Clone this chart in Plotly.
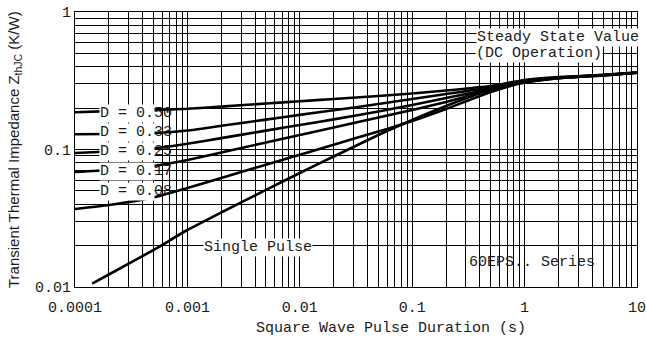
import plotly.graph_objects as go

# ---------------- data ----------------
t = [0.0001, 0.0002, 0.0005, 0.001, 0.002, 0.005, 0.01, 0.02, 0.05, 0.1, 0.2, 0.5, 1, 2, 5, 10]
z_d050 = [0.1867, 0.190, 0.1938, 0.1977, 0.205, 0.216, 0.2243, 0.233, 0.245, 0.2557, 0.2687, 0.2897, 0.320, 0.336, 0.349, 0.363]
z_d033 = [0.129, 0.1297, 0.1318, 0.1374, 0.1487, 0.165, 0.1786, 0.1928, 0.2142, 0.233, 0.2533, 0.2825, 0.315, 0.333, 0.348, 0.363]
z_d025 = [0.0943, 0.0967, 0.1017, 0.110, 0.121, 0.1372, 0.1508, 0.1656, 0.189, 0.2108, 0.2368, 0.2754, 0.312, 0.332, 0.347, 0.362]
z_d017 = [0.0686, 0.0710, 0.0759, 0.0839, 0.0951, 0.1124, 0.1275, 0.1445, 0.171, 0.1938, 0.2215, 0.271, 0.310, 0.331, 0.347, 0.362]
z_d008 = [0.0369, 0.0395, 0.0448, 0.0525, 0.0621, 0.0775, 0.0917, 0.1084, 0.1352, 0.1612, 0.197, 0.262, 0.307, 0.330, 0.346, 0.362]
t_single = [0.000142, 0.0002, 0.0005, 0.001, 0.002, 0.005, 0.01, 0.02, 0.05, 0.1, 0.2, 0.5, 1, 2, 5, 10]
z_single = [0.0106, 0.01233, 0.01858, 0.02597, 0.03483, 0.0508, 0.0675, 0.0889, 0.1275, 0.1639, 0.2072, 0.273, 0.307, 0.330, 0.346, 0.362]

duty_labels = ["0.50", "0.33", "0.25", "0.17", "0.08"]
duty_series = [z_d050, z_d033, z_d025, z_d017, z_d008]

x_decades = [0.0001, 0.001, 0.01, 0.1, 1, 10]
x_decade_labels = ["0.0001", "0.001", "0.01", "0.1", "1", "10"]
y_decades = [0.01, 0.1, 1]
y_decade_labels = ["0.01", "0.1", "1"]
mantissas = [1, 2, 3, 4, 5, 6, 7, 8, 9]

x_title = "Square Wave Pulse Duration (s)"
y_title = "Transient Thermal Impedance Z<sub>thJC</sub> (K/W)"

# ---------------- build ticks (grid at every 1..9 multiple) ----------------
def grid_ticks(decades, labels):
    vals, texts = [], []
    for d, lab in zip(decades, labels):
        for m in mantissas:
            v = d * m
            if v > decades[-1] * 1.0001:
                continue
            vals.append(v)
            texts.append(lab if m == 1 else "")
    return vals, texts

xt_vals, xt_text = grid_ticks(x_decades, x_decade_labels)
yt_vals, yt_text = grid_ticks(y_decades, y_decade_labels)

MONO = "Liberation Mono"
INK = "#1a1a1a"

fig = go.Figure()
for lab, z in zip(duty_labels, duty_series):
    fig.add_trace(go.Scatter(x=t, y=z, mode="lines", name="D = " + lab,
                             line=dict(color="black", width=2.6, shape="spline", smoothing=0.5)))
fig.add_trace(go.Scatter(x=t_single, y=z_single, mode="lines", name="Single Pulse",
                         line=dict(color="black", width=2.6, shape="spline", smoothing=0.5)))

axis_common = dict(showgrid=True, gridcolor="black", gridwidth=1, zeroline=False,
                   showline=True, linecolor="black", linewidth=1.2, mirror=True,
                   ticks="", automargin=False, tickangle=0, ticklabeloverflow="allow",
                   tickfont=dict(family=MONO, size=15, color=INK))

fig.update_xaxes(type="log", range=[-4, 1], tickmode="array", tickvals=xt_vals,
                 ticktext=xt_text, ticklabelstandoff=6, **axis_common)
fig.update_yaxes(type="log", range=[-2, 0], tickmode="array", tickvals=yt_vals,
                 ticktext=yt_text, **axis_common)

L, R, T, B, W, H = 75, 9, 12, 60, 646, 347
PW, PH = W - L - R, H - T - B

def px(xp):
    return (xp - L) / PW

def py(yp):
    return (H - B - yp) / PH

ann = []
# duty-cycle labels: white box over "D = 0." part, digits plain
for i, lab in enumerate(duty_labels):
    yc = 113 + 19.5 * i
    ann.append(dict(text="D = 0.", x=px(99), y=py(yc), xref="paper", yref="paper",
                    xanchor="left", yanchor="middle", showarrow=False, bgcolor="white",
                    borderpad=0, font=dict(family=MONO, size=15, color=INK)))
    ann.append(dict(text=lab.split(".")[1], x=px(99 + 54), y=py(yc), xref="paper", yref="paper",
                    xanchor="left", yanchor="middle", showarrow=False,
                    borderpad=0, font=dict(family=MONO, size=15, color=INK)))

ann.append(dict(text="Steady State Value", x=px(476), y=py(37), xref="paper", yref="paper",
                xanchor="left", yanchor="middle", showarrow=False, bgcolor="white", borderpad=0,
                font=dict(family=MONO, size=15, color=INK)))
ann.append(dict(text="(DC Operation)", x=px(475), y=py(54), xref="paper", yref="paper",
                xanchor="left", yanchor="middle", showarrow=False, bgcolor="white", borderpad=0,
                font=dict(family=MONO, size=15, color=INK)))
ann.append(dict(text="Single Pulse", x=px(203), y=py(247), xref="paper", yref="paper",
                xanchor="left", yanchor="middle", showarrow=False, bgcolor="white", borderpad=0,
                font=dict(family=MONO, size=15, color=INK)))
ann.append(dict(text="60EPS.. Series", x=px(468), y=py(262), xref="paper", yref="paper",
                xanchor="left", yanchor="middle", showarrow=False, borderpad=0,
                font=dict(family=MONO, size=15, color=INK)))
ann.append(dict(text=x_title, x=px(391), y=py(328), xref="paper", yref="paper",
                xanchor="center", yanchor="middle", showarrow=False,
                font=dict(family=MONO, size=15, color=INK)))
ann.append(dict(text=y_title, x=px(14), y=py(150), xref="paper", yref="paper",
                xanchor="center", yanchor="middle", showarrow=False, textangle=-90,
                font=dict(family="Liberation Sans", size=15, color=INK)))

fig.update_layout(width=W, height=H, margin=dict(l=L, r=R, t=T, b=B, autoexpand=False),
                  paper_bgcolor="white", plot_bgcolor="white", showlegend=False,
                  annotations=ann)

fig.write_html("out.html", config={"displayModeBar": False},
               post_script="document.body.style.margin='0';document.body.style.overflow='hidden';")
